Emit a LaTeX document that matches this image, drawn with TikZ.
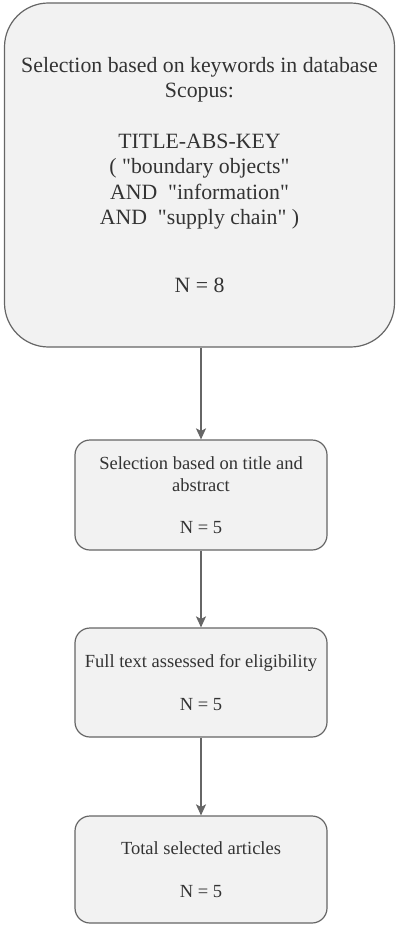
\documentclass[tikz,border=0pt]{standalone}
\usepackage{fontspec}
% plain typewriter-style quotes are wanted, so TeX ligatures are switched off
\setmainfont{Liberation Serif}[Ligatures=TeXOff]
\usetikzlibrary{arrows.meta}
\definecolor{boxfill}{HTML}{F2F2F2}
\definecolor{boxline}{HTML}{666666}
\definecolor{txt}{HTML}{333333}
\definecolor{arrowline}{HTML}{666666}
\begin{document}
\begin{tikzpicture}[x=1pt,y=-1pt,
  stagebox/.style={draw=boxline, fill=boxfill, line width=1.2pt, text=txt,
    align=center, inner sep=0pt},
  smallbox/.style={stagebox, rounded corners=15pt, minimum width=252pt,
    font=\fontsize{18.5}{22.5}\selectfont},
  flow/.style={draw=arrowline, line width=1.3pt,
    -{Stealth[length=11pt,width=10pt,inset=2.5pt]}}]
  \useasboundingbox (0,0) rectangle (397,925);

  \node[stagebox, rounded corners=44pt, minimum width=390pt, minimum height=344pt,
        font=\fontsize{21.8}{25.5}\selectfont] (search) at (199.5,175)
    {Selection based on keywords in database\\
     Scopus:\\[25pt]
     TITLE-ABS-KEY\\
     ( "boundary objects"\\
     AND\ \ "information"\\
     AND\ \ "supply chain" )\\[42pt]
     N = 8};

  \node[smallbox, minimum height=110pt] (screen) at (201,495)
    {Selection based on title and\\
     abstract\\[19pt]
     N = 5};

  \node[smallbox, minimum height=109pt] (fulltext) at (201,682.5)
    {Full text assessed for eligibility\\[21pt]
     N = 5};

  \node[smallbox, minimum height=107pt] (total) at (201,869.5)
    {Total selected articles\\[20pt]
     N = 5};

  \draw[flow] (search.south -| screen.north) -- (screen.north);
  \draw[flow] (screen) -- (fulltext);
  \draw[flow] (fulltext) -- (total);
\end{tikzpicture}
\end{document}
